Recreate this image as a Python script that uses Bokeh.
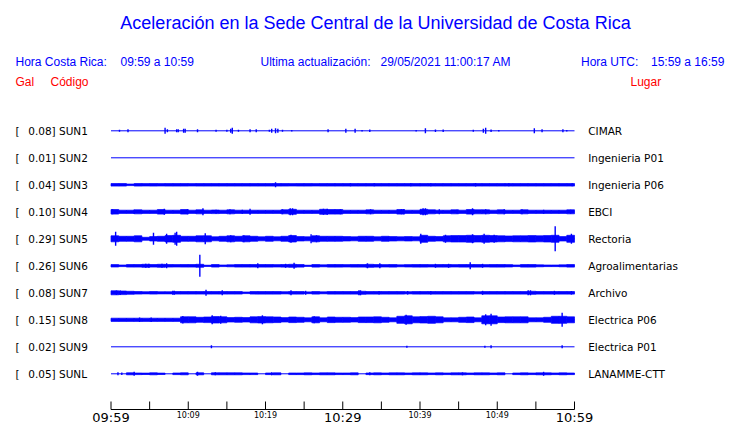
from bokeh.plotting import figure
from bokeh.models import Range1d
from bokeh.core.properties import value
from bokeh.embed import file_html
from bokeh.resources import INLINE

# ---------------- data ----------------
codes = ["SUN1", "SUN2", "SUN3", "SUN4", "SUN5", "SUN6", "SUN7", "SUN8", "SUN9", "SUNL"]
gal = ["0.08", "0.01", "0.04", "0.10", "0.29", "0.26", "0.08", "0.15", "0.02", "0.05"]
places = ["CIMAR", "Ingenieria P01", "Ingenieria P06", "EBCI", "Rectoria",
          "Agroalimentarias", "Archivo", "Electrica P06", "Electrica P01", "LANAMME-CTT"]

# per-minute envelope (half height, px), minutes 0..59 after 09:59
band_sun1 = [0] * 60
band_sun2 = [0] * 60
band_sun3 = [1.3, 1.3, 0.8, 1.3, 1.2, 1.3, 1.2, 1.3, 1.3, 1.3, 1.2, 1.3, 1.3, 1.3, 1.3,
             1.3, 1.3, 1.3, 1.3, 1.3, 1.3, 1.3, 1.3, 1.2, 1.3, 1.3, 1.2, 1.3, 1.3, 1.3,
             1.3, 1.3, 1.3, 1.3, 1.3, 1.3, 1.3, 1.3, 1.3, 1.3, 1.3, 1.3, 1.3, 1.3, 1.3,
             1.3, 1.3, 1.3, 1.3, 1.3, 1.3, 1.3, 1.3, 1.3, 1.3, 1.3, 1.3, 1.3, 1.3, 1.3]
band_sun4 = [2.3, 1.6, 1.6, 2.0, 1.6, 1.6, 2.3, 1.6, 1.6, 2.3, 1.6, 2.0, 1.6, 1.8, 1.6,
             2.0, 1.6, 1.6, 1.6, 1.6, 1.6, 1.6, 2.0, 2.5, 1.6, 1.6, 1.6, 2.5, 2.3, 2.3,
             1.6, 1.6, 1.6, 2.0, 1.6, 1.6, 1.6, 2.3, 1.6, 1.6, 2.5, 2.0, 1.6, 1.6, 2.0,
             1.6, 2.3, 2.0, 2.0, 1.6, 2.0, 1.6, 1.6, 2.0, 1.6, 1.6, 1.6, 1.6, 1.6, 2.0]
band_sun5 = [3.0, 2.5, 2.5, 3.0, 1.5, 2.2, 2.5, 3.2, 3.5, 2.5, 2.5, 3.0, 3.0, 2.0, 2.5,
             3.0, 2.5, 3.0, 2.5, 2.0, 2.5, 2.0, 2.5, 3.2, 2.2, 2.0, 3.0, 2.5, 2.5, 2.5,
             2.2, 2.0, 2.5, 2.5, 2.0, 2.5, 2.2, 2.0, 2.2, 2.0, 3.5, 2.5, 2.2, 3.0, 3.2,
             3.2, 3.5, 3.2, 3.5, 3.2, 3.0, 2.8, 3.0, 3.0, 3.2, 3.0, 3.2, 3.5, 2.2, 3.5]
band_sun6 = [1.2, 0.8, 1.3, 1.3, 1.5, 1.3, 1.5, 1.3, 1.2, 1.3, 1.3, 1.5, 0.6, 1.3, 0.8,
             1.0, 1.3, 1.3, 1.3, 1.3, 1.3, 1.2, 1.3, 1.5, 1.3, 0.6, 1.3, 1.0, 1.3, 1.3,
             1.2, 1.3, 1.3, 1.5, 1.3, 1.2, 1.3, 1.0, 1.2, 1.3, 1.3, 1.2, 1.3, 1.3, 1.2,
             1.3, 1.3, 1.3, 1.2, 1.3, 1.3, 1.2, 0.8, 1.3, 1.3, 1.0, 0.8, 0.8, 1.0, 1.3]
band_sun7 = [2.0, 1.8, 1.5, 1.3, 1.1, 1.3, 1.1, 1.1, 1.3, 1.3, 1.3, 1.3, 1.3, 1.3, 1.3,
             1.3, 1.3, 0.8, 1.3, 1.3, 1.3, 1.3, 1.1, 1.3, 1.3, 0.9, 1.3, 1.0, 1.3, 1.3,
             1.3, 1.3, 1.5, 1.3, 1.3, 1.3, 1.3, 1.3, 1.1, 1.3, 1.3, 1.3, 1.3, 1.3, 1.3,
             1.3, 1.3, 1.1, 1.3, 1.3, 1.3, 1.3, 1.3, 1.3, 1.5, 1.3, 1.3, 1.3, 1.3, 1.3]
band_sun8 = [1.6, 1.6, 1.6, 1.6, 1.6, 1.6, 1.6, 1.6, 1.6, 3.0, 3.0, 2.5, 2.8, 3.2, 3.0,
             2.2, 2.5, 2.2, 3.0, 3.2, 3.0, 2.8, 2.2, 2.8, 2.5, 2.0, 3.0, 2.0, 2.8, 2.5,
             2.5, 2.2, 2.8, 2.8, 3.0, 2.5, 2.0, 3.5, 4.0, 3.0, 3.2, 3.5, 3.0, 2.0, 2.0,
             2.5, 2.8, 2.0, 4.0, 4.0, 2.8, 3.0, 3.0, 3.0, 2.0, 2.0, 2.5, 3.5, 3.5, 3.0]
band_sun9 = [0] * 60
band_sunl = [0.3, 0.5, 1.0, 0.8, 0.7, 1.0, 0.7, 0.5, 0.8, 1.0, 0.5, 1.0, 0.5, 1.0, 1.0,
             1.0, 1.0, 0.8, 0.8, 0.5, 0.8, 1.0, 0.5, 0.8, 0.8, 1.0, 0.8, 1.0, 1.0, 0.8,
             0.8, 1.0, 0.5, 0.8, 1.0, 0.8, 1.0, 1.0, 0.8, 1.0, 1.0, 0.8, 1.0, 0.8, 1.0,
             1.0, 0.8, 1.0, 1.0, 0.8, 1.0, 0.3, 0.8, 1.0, 0.8, 1.0, 1.0, 0.8, 1.0, 0.8]

# isolated peaks: (minute, half height px)
spikes_sun1 = [(1.1, 1), (2.2, 1.5), (7.0, 3), (7.3, 1.5), (8.5, 1.5), (8.7, 1.5), (9.4, 2),
               (9.6, 2), (11.2, 1.5), (13.6, 1), (15.0, 1), (15.5, 2), (15.7, 3), (16.5, 1),
               (18.0, 1.5), (18.8, 1.5), (20.5, 1), (20.8, 2), (21.3, 2.5), (21.6, 2),
               (22.2, 1), (23.4, 0.7), (28.1, 1.5), (30.4, 2), (31.6, 2), (32.5, 0.7),
               (33.5, 1.3), (39.5, 0.7), (40.7, 2.5), (42.0, 1.3), (43.0, 1.3), (46.9, 1),
               (48.2, 2), (48.5, 3), (49.2, 1.3), (50.2, 0.7), (54.8, 2.5), (55.8, 1.5),
               (58.5, 1.5), (59.0, 0.7)]
spikes_sun2 = []
spikes_sun3 = [(21.3, 2.5), (31.0, 1.5), (34.1, 1.5), (38.8, 1.5), (41.4, 1.5), (47.2, 1.8),
               (51.5, 1.5), (59.7, 1.5)]
spikes_sun4 = [(0.2, 2.5), (3.0, 2), (6.9, 3), (9.9, 2.5), (11.9, 3.5), (13.6, 2), (15.4, 2.5),
               (17.0, 2), (18.0, 3), (22.2, 2.5), (23.2, 3.5), (23.5, 3.5), (27.5, 3), (28.0, 3),
               (29.7, 2.5), (33.6, 2.5), (37.6, 2.5), (37.9, 2.5), (40.4, 3.5), (40.7, 3.5),
               (42.5, 2.5), (44.8, 2), (46.8, 3.5), (48.5, 2.5), (50.9, 2.5), (53.2, 2.5),
               (56.0, 2), (59.5, 2)]
spikes_sun5 = [(0.6, 7), (5.5, 6), (7.2, 5), (8.3, 6), (8.5, 7), (12.2, 5.5), (15.5, 3.5),
               (17.2, 3.5), (23.3, 4), (25.9, 4.5), (26.6, 3.5), (40.1, 5), (43.3, 4),
               (46.8, 4.5), (48.3, 5), (49.6, 4), (57.5, 12.5), (59.6, 5)]
spikes_sun6 = [(4.5, 2), (4.9, 2), (6.6, 2), (7.2, 2.5), (11.5, 11), (19.0, 2.5), (22.6, 2),
               (23.7, 3), (33.2, 2.5), (34.8, 2.5), (42.0, 2), (43.7, 2), (46.5, 3.5), (48.1, 2)]
spikes_sun7 = [(0.7, 2.3), (1.2, 2.3), (8.0, 2), (8.2, 2), (12.3, 3), (14.4, 2.5), (23.3, 2.5),
               (25.2, 2), (32.1, 2.5), (32.3, 2.5), (34.7, 1.8), (38.4, 1.8), (41.4, 1.8),
               (48.1, 2), (54.0, 2.5), (54.3, 2.5), (57.4, 2), (59.6, 1.8)]
spikes_sun8 = [(3.7, 2.2), (5.2, 2.2), (9.3, 3.8), (13.1, 4.5), (14.2, 4), (19.6, 4.5),
               (26.3, 3.5), (38.2, 5), (48.5, 5.5), (49.2, 6), (58.4, 7)]
spikes_sun9 = [(13.0, 1.5), (38.3, 1), (48.4, 1), (49.2, 1.5), (58.4, 1.5)]
spikes_sunl = [(0.9, 1.5), (1.4, 1.3), (3.0, 2), (11.2, 2), (13.5, 1.5), (20.8, 1.5),
               (33.5, 1.5), (45.5, 1.5), (56.0, 2)]

bands = [band_sun1, band_sun2, band_sun3, band_sun4, band_sun5,
         band_sun6, band_sun7, band_sun8, band_sun9, band_sunl]
spikes = [spikes_sun1, spikes_sun2, spikes_sun3, spikes_sun4, spikes_sun5,
          spikes_sun6, spikes_sun7, spikes_sun8, spikes_sun9, spikes_sunl]

tick_minutes = list(range(0, 61, 5))
tick_labels = {0: "09:59", 10: "10:09", 20: "10:19", 30: "10:29", 40: "10:39", 50: "10:49", 60: "10:59"}
big_ticks = [0, 30, 60]

title = "Aceleración en la Sede Central de la Universidad de Costa Rica"
hdr_cr = ("Hora Costa Rica:", "09:59 a 10:59")
hdr_upd = ("Ultima actualización:", "29/05/2021 11:00:17 AM")
hdr_utc = ("Hora UTC:", "15:59 a 16:59")

# ---------------- layout ----------------
W, H = 740, 423
X0, X60 = 110.5, 574.0          # page x of 09:59 and 10:59
S = (X60 - X0) / 60.0
ROW0, DROW = 130.3, 27.0
BLUE, RED = "#0000ff", "#ff0000"

p = figure(width=W, height=H, output_backend="svg", toolbar_location=None,
           x_range=Range1d(0, W), y_range=Range1d(H, 0),
           x_axis_location=None, y_axis_location=None, min_border=0)
p.extra_x_ranges = {"t": Range1d((0 - X0) / S, (W - X0) / S)}
p.grid.visible = False
p.outline_line_color = None
p.background_fill_color = "white"
p.border_fill_color = "white"

sans = value("Liberation Sans")
dj = value("DejaVu Sans")

# title & header
p.text(x=[375], y=[22], text=[title], text_font=sans, text_font_size="18px",
       text_color=BLUE, text_align="center", text_baseline="middle")
p.text(x=[15, 120, 260, 380, 580.5, 650.5],
       y=[61] * 6,
       text=[hdr_cr[0], hdr_cr[1], hdr_upd[0], hdr_upd[1], hdr_utc[0], hdr_utc[1]],
       text_font=sans, text_font_size="12px", text_color=BLUE,
       text_align="left", text_baseline="middle")
p.text(x=[15, 50, 630], y=[81] * 3, text=["Gal", "Código", "Lugar"],
       text_font=sans, text_font_size="12px", text_color=RED,
       text_align="left", text_baseline="middle")

# traces
for i in range(len(codes)):
    yc = ROW0 + DROW * i
    # baseline
    p.segment(x0=[0], x1=[60], y0=[yc], y1=[yc], line_color=BLUE, line_width=1,
              x_range_name="t")
    b = bands[i]
    L = [m for m in range(60) if b[m] > 0.5]
    if L:
        p.quad(left=L, right=[m + 1 for m in L],
               top=[yc - b[m] for m in L], bottom=[yc + b[m] for m in L],
               fill_color=BLUE, line_color=BLUE, line_width=0.7, x_range_name="t")
    sp = spikes[i]
    if sp:
        p.segment(x0=[t for t, a in sp], x1=[t for t, a in sp],
                  y0=[yc - a for t, a in sp], y1=[yc + a for t, a in sp],
                  line_color=BLUE, line_width=1.4, x_range_name="t")
    # labels
    p.text(x=[15], y=[yc], text=["["], text_font=dj, text_font_size="10.5px",
           text_color="black", text_baseline="middle")
    p.text(x=[27.7], y=[yc], text=[f"{gal[i]}] {codes[i]}"], text_font=dj,
           text_font_size="10.5px", text_color="black", text_baseline="middle")
    p.text(x=[587.7], y=[yc], text=[places[i]], text_font=dj, text_font_size="10.5px",
           text_color="black", text_baseline="middle")

# time axis
AX_Y = 409
p.segment(x0=[0], x1=[60], y0=[AX_Y], y1=[AX_Y], line_color="black", line_width=1,
          x_range_name="t")
p.segment(x0=tick_minutes, x1=tick_minutes, y0=[AX_Y - 8] * len(tick_minutes),
          y1=[AX_Y] * len(tick_minutes), line_color="black", line_width=1, x_range_name="t")
big = [m for m in tick_minutes if m in big_ticks]
small = [m for m in tick_minutes if m in tick_labels and m not in big_ticks]
p.text(x=big, y=[AX_Y + 7.5] * len(big), text=[tick_labels[m] for m in big],
       text_font=dj, text_font_size="13px", text_color="black",
       text_align="center", text_baseline="middle", x_range_name="t")
p.text(x=small, y=[AX_Y + 6] * len(small), text=[tick_labels[m] for m in small],
       text_font=dj, text_font_size="8px", text_color="black",
       text_align="center", text_baseline="middle", x_range_name="t")

open("out.html", "w").write(file_html(p, INLINE))
